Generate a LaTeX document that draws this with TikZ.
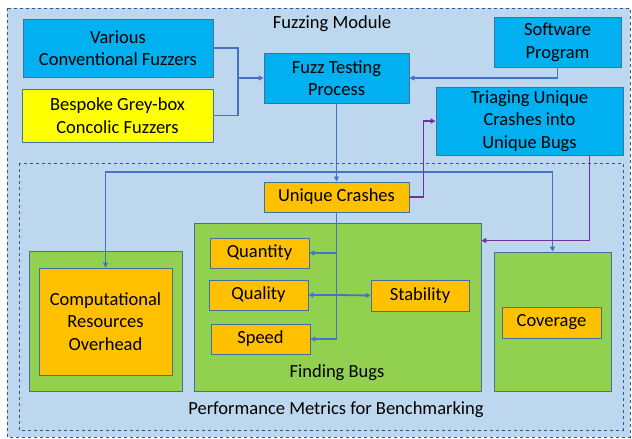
\documentclass[tikz,border=0pt]{standalone}
\usepackage{fontspec}
\setmainfont{Carlito}
\usetikzlibrary{arrows.meta}
\definecolor{bgblue}{HTML}{BDD7EE}
\definecolor{boxblue}{HTML}{00B0F0}
\definecolor{boxyellow}{HTML}{FFFF00}
\definecolor{boxorange}{HTML}{FFC000}
\definecolor{boxgreen}{HTML}{92D050}
\definecolor{edgeblue}{HTML}{41719C}
\definecolor{linkblue}{HTML}{4472C4}
\definecolor{linkpurple}{HTML}{7030A0}
\definecolor{frameblue}{HTML}{2F5597}
\tikzset{
  x=1pt, y=-1pt,
  base/.style={draw=edgeblue, line width=0.9pt, inner sep=0pt, align=center,
    font=\fontsize{18.5}{22.5}\selectfont},
  bluebox/.style={base, fill=boxblue},
  yellowbox/.style={base, fill=boxyellow},
  orangebox/.style={base, fill=boxorange},
  greenbox/.style={base, fill=boxgreen},
  frame/.style={draw=frameblue, dashed, line width=0.8pt},
  label/.style={font=\fontsize{18.5}{22.5}\selectfont, inner sep=0pt},
  link/.style={draw=linkblue, line width=1.8pt, -{Triangle[length=5pt,width=5pt]}},
  plainlink/.style={draw=linkblue, line width=1.8pt},
  purplelink/.style={draw=linkpurple, line width=1.8pt, -{Triangle[length=5pt,width=5pt]}},
}
\begin{document}
\begin{tikzpicture}
\useasboundingbox (0,0) rectangle (632,439);
% module frames
\fill[white] (0,0) rectangle (632,439);
\draw[frame, fill=bgblue] (7,8) rectangle (630,437);
\draw[frame] (19,163) rectangle (623,430);
\node[label] (fmlabel) at (332,24) {Fuzzing Module};
\node[label] (pmlabel) at (336,410) {Performance Metrics for Benchmarking};

% top part
\node[bluebox, minimum width=190pt, minimum height=58pt] (conv) at (118,48) {Various\\Conventional Fuzzers};
\node[yellowbox, minimum width=191pt, minimum height=53pt] (besp) at (117.5,115.5) {Bespoke Grey-box\\Concolic Fuzzers};
\node[bluebox, minimum width=145pt, minimum height=50pt] (fuzz) at (336.5,78) {Fuzz Testing\\Process};
\node[bluebox, minimum width=127pt, minimum height=50pt] (soft) at (557.5,42) {Software\\Program};
\node[bluebox, minimum width=187pt, minimum height=68pt] (tri) at (529.5,121) {Triaging Unique\\Crashes into\\Unique Bugs};

% metric groups
\node[orangebox, minimum width=145pt, minimum height=30pt] (uc) at (336.5,197) {Unique Crashes};
\node[greenbox, minimum width=153pt, minimum height=140pt] (compg) at (105.5,321) {};
\node[orangebox, minimum width=133pt, minimum height=107pt] (comp) at (105.5,321.5) {Computational\\Resources\\Overhead};
\node[greenbox, minimum width=287pt, minimum height=168pt] (fb) at (337.5,307) {};
\node[label] (fblabel) at (337,373) {Finding Bugs};
\node[orangebox, minimum width=99pt, minimum height=30pt] (qty) at (259.5,253) {Quantity};
\node[orangebox, minimum width=99pt, minimum height=30pt] (qual) at (258.5,295) {Quality};
\node[orangebox, minimum width=99pt, minimum height=30pt] (speed) at (260.5,339) {Speed};
\node[orangebox, minimum width=98pt, minimum height=31pt] (stab) at (420,295.5) {Stability};
\node[greenbox, minimum width=117pt, minimum height=139pt] (covg) at (552.5,321.5) {};
\node[orangebox, minimum width=99pt, minimum height=31pt] (cov) at (551.5,322.5) {Coverage};

% connectors
\coordinate (join) at (238,78);
\draw[plainlink] (conv.east) -| (join);
\draw[plainlink] (besp.east) -| (join);
\draw[link] (join) -- (fuzz.west);
\draw[link] (soft.south) |- (fuzz.east);
\draw[link] (fuzz.south) -- (uc.north);
\coordinate (split) at (336.5,172);
\draw[link] (split) -| (comp.north);
\draw[link] (split) -| (covg.north);
\draw[plainlink] (uc.south) -- (uc.south |- speed.east);
\draw[link] (uc.south |- qty.east) -- (qty.east);
\draw[link] (uc.south |- qual.east) -- (qual.east);
\draw[link] (uc.south |- qual.east) -- (stab.west);
\draw[link] (uc.south |- speed.east) -- (speed.east);
\draw[purplelink] (uc.east) -- ++(14,0) |- (tri.west);
\draw[purplelink] ([xshift=60pt]tri.south) |- ([yshift=-18pt]fb.north east);
\end{tikzpicture}
\end{document}
